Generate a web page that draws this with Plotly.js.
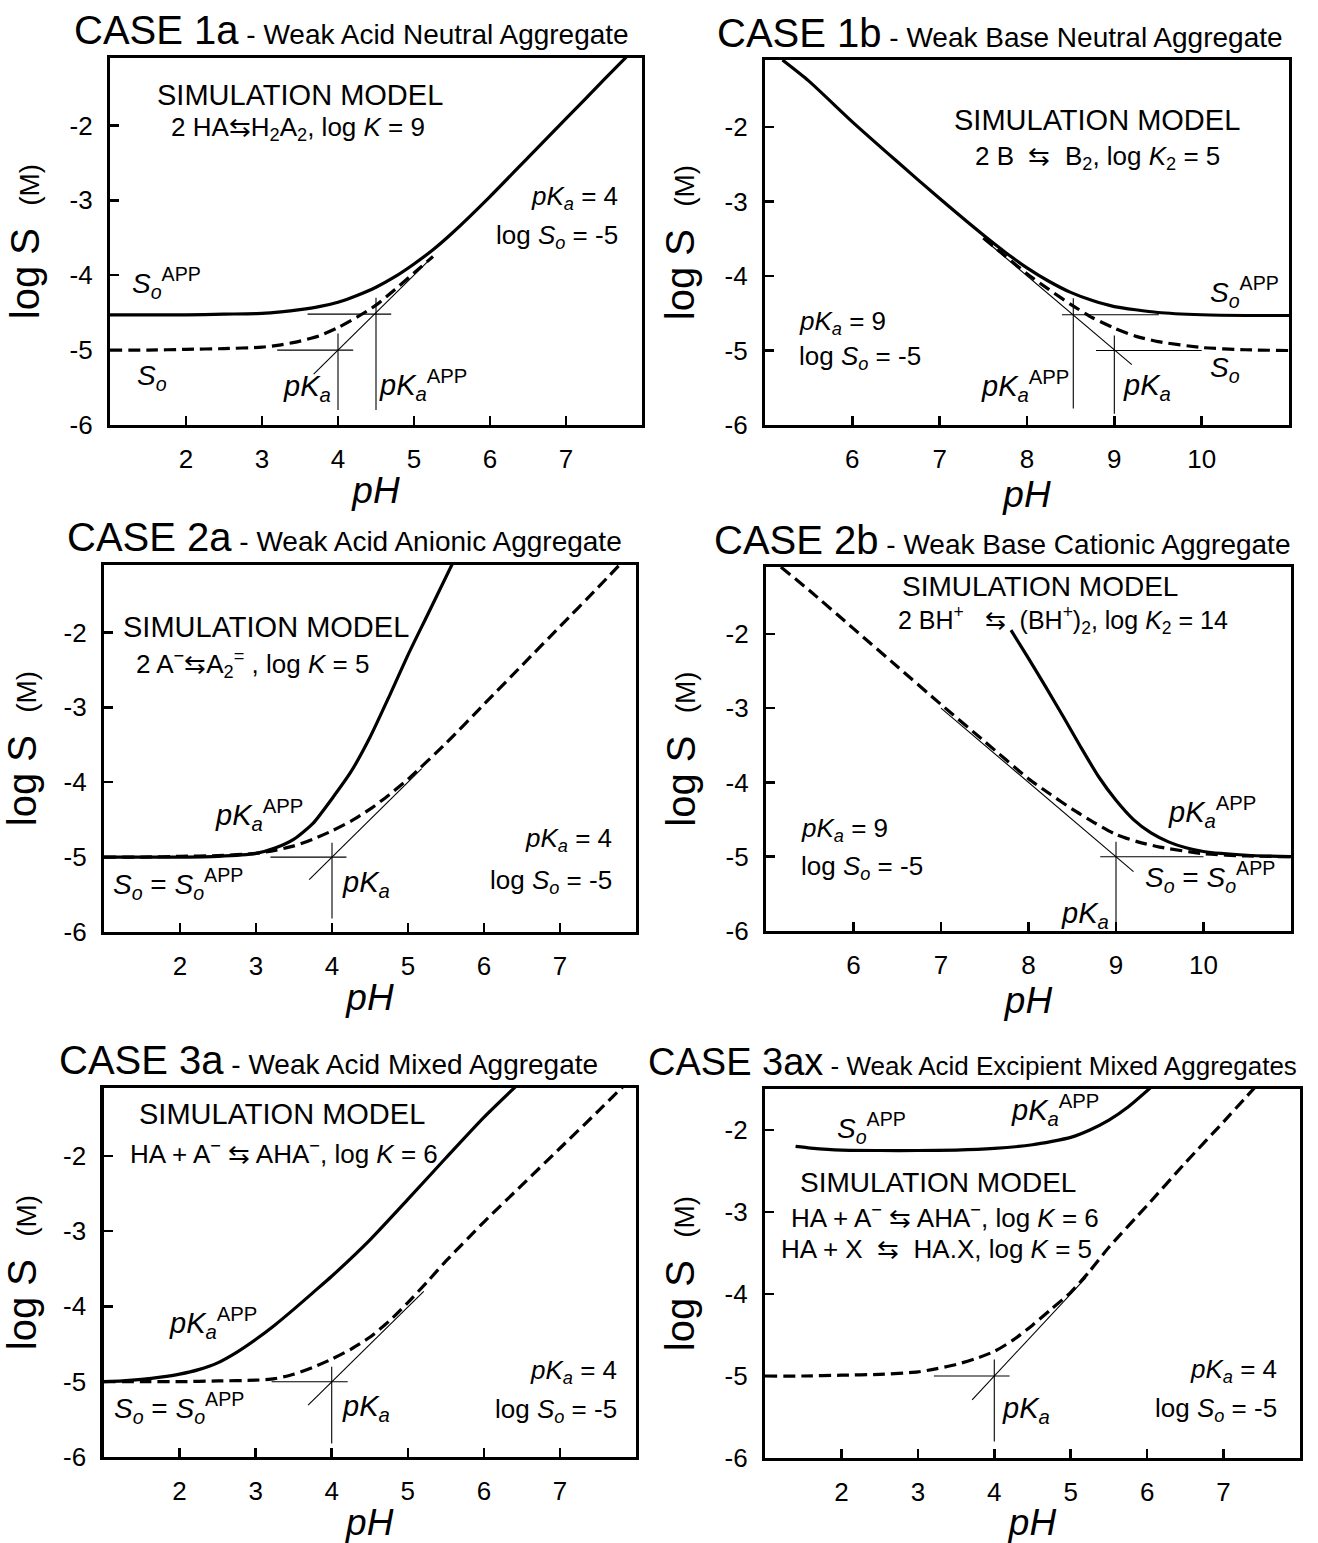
<!DOCTYPE html>
<html>
<head>
<meta charset="utf-8">
<script src="https://cdn.plot.ly/plotly-3.0.1.min.js"></script>
<style>html,body{margin:0;padding:0;background:#fff;}#chart{width:1318px;height:1543px;}</style>
</head>
<body>
<div id="chart"></div>
<script>
// ---------------- DATA ----------------
const yTickVals = [-6, -5, -4, -3, -2];
const yTickText = ['-6', '-5', '-4', '-3', '-2'];
const xTickAcid = [2, 3, 4, 5, 6, 7];
const xTickBase = [6, 7, 8, 9, 10];

// CASE 1a
const pH1a_app = [1, 2, 2.5, 3, 3.25, 3.5, 3.75, 4, 4.25, 4.5, 4.75, 5, 5.25, 5.5, 6, 6.5, 7, 7.5, 7.8];
const logS1a_app = [-4.53, -4.53, -4.52, -4.51, -4.49, -4.46, -4.42, -4.36, -4.27, -4.16, -4.02, -3.85, -3.66, -3.44, -2.95, -2.43, -1.91, -1.39, -1.08];
const pH1a_so = [1, 1.5, 2, 2.5, 3, 3.25, 3.5, 3.75, 4, 4.25, 4.5, 4.75, 5, 5.25];
const logS1a_so = [-5.0, -5.0, -4.99, -4.98, -4.96, -4.93, -4.88, -4.81, -4.70, -4.56, -4.40, -4.19, -3.97, -3.75];
const tan1a_x = [3.68, 5.22], tan1a_y = [-5.32, -3.78];
const pka1a_hx = [3.2, 4.2], pka1a_hy = [-5, -5];
const pka1a_vx = [4, 4], pka1a_vy = [-4.78, -5.8];
const app1a_hx = [3.6, 4.7], app1a_hy = [-4.52, -4.52];
const app1a_vx = [4.5, 4.5], app1a_vy = [-4.3, -5.8];

// CASE 1b
const pH1b_app = [5.2, 5.5, 6, 6.5, 7, 7.5, 7.75, 8, 8.25, 8.5, 8.75, 9, 9.5, 10, 10.5, 11];
const logS1b_app = [-1.1, -1.38, -1.93, -2.45, -2.96, -3.45, -3.68, -3.89, -4.07, -4.22, -4.33, -4.41, -4.49, -4.52, -4.53, -4.53];
const pH1b_so = [7.5, 7.75, 8, 8.25, 8.5, 8.75, 9, 9.25, 9.5, 10, 10.5, 11];
const logS1b_so = [-3.49, -3.73, -3.97, -4.18, -4.38, -4.56, -4.70, -4.81, -4.88, -4.96, -4.99, -5.0];
const tan1b_x = [7.51, 9.2], tan1b_y = [-3.51, -5.19];
const pka1b_hx = [8.79, 10.0], pka1b_hy = [-5, -5];
const pka1b_vx = [9, 9], pka1b_vy = [-4.8, -5.85];
const app1b_hx = [8.4, 9.51], app1b_hy = [-4.52, -4.52];
const app1b_vx = [8.53, 8.53], app1b_vy = [-4.3, -5.78];

// CASE 2a
const pH2a_app = [1, 1.5, 2, 2.5, 3, 3.25, 3.5, 3.75, 4, 4.25, 4.5, 4.75, 5, 5.25, 5.6];
const logS2a_app = [-5.0, -5.0, -5.0, -4.99, -4.95, -4.88, -4.76, -4.55, -4.22, -3.86, -3.4, -2.86, -2.3, -1.78, -1.05];
const pH2a_so = [1, 1.5, 2, 2.5, 3, 3.25, 3.5, 3.75, 4, 4.25, 4.5, 4.75, 5, 5.5, 6, 6.5, 7, 7.5, 7.8];
const logS2a_so = [-5.0, -5.0, -4.99, -4.98, -4.95, -4.91, -4.85, -4.76, -4.65, -4.52, -4.36, -4.17, -3.96, -3.48, -2.96, -2.44, -1.92, -1.4, -1.08];
const tan2a_x = [3.7, 5.18], tan2a_y = [-5.3, -3.82];
const pka2a_hx = [3.19, 4.19], pka2a_hy = [-5, -5];
const pka2a_vx = [4, 4], pka2a_vy = [-4.81, -5.82];

// CASE 2b
const pH2b_so = [5.17, 5.5, 6, 6.5, 7, 7.5, 8, 8.25, 8.5, 8.75, 9, 9.25, 9.5, 10, 10.5, 11];
const logS2b_so = [-1.1, -1.42, -1.93, -2.44, -2.95, -3.45, -3.95, -4.16, -4.36, -4.54, -4.7, -4.8, -4.87, -4.96, -4.99, -5.0];
const pH2b_app = [7.8, 8.0, 8.2, 8.4, 8.6, 8.8, 9.0, 9.2, 9.4, 9.6, 9.8, 10.0, 10.5, 11];
const logS2b_app = [-1.95, -2.33, -2.72, -3.12, -3.53, -3.92, -4.24, -4.5, -4.68, -4.8, -4.88, -4.93, -4.98, -5.0];
const tan2b_x = [7.0, 9.2], tan2b_y = [-3.0, -5.2];
const pka2b_hx = [8.82, 10.0], pka2b_hy = [-5, -5];
const pka2b_vx = [9, 9], pka2b_vy = [-4.8, -5.88];

// CASE 3a
const pH3a_app = [1, 1.25, 1.5, 1.75, 2, 2.25, 2.5, 2.75, 3, 3.25, 3.5, 3.75, 4, 4.5, 5, 5.5, 6, 6.45];
const logS3a_app = [-5.0, -4.99, -4.97, -4.94, -4.9, -4.84, -4.75, -4.61, -4.44, -4.25, -4.04, -3.82, -3.6, -3.12, -2.58, -2.03, -1.49, -1.05];
const pH3a_so = [1, 1.5, 2, 2.5, 3, 3.25, 3.5, 3.75, 4, 4.25, 4.5, 4.75, 5, 5.25, 5.5, 6, 6.5, 7, 7.5, 7.85];
const logS3a_so = [-5.0, -5.0, -5.0, -4.99, -4.98, -4.96, -4.9, -4.81, -4.7, -4.57, -4.41, -4.2, -3.95, -3.68, -3.4, -2.88, -2.39, -1.9, -1.41, -1.06];
const tan3a_x = [3.69, 5.21], tan3a_y = [-5.31, -3.8];
const pka3a_hx = [3.21, 4.21], pka3a_hy = [-5, -5];
const pka3a_vx = [4, 4], pka3a_vy = [-4.8, -5.82];

// CASE 3ax
const pH3ax_app = [1.4, 1.6, 2, 2.5, 3, 3.5, 4, 4.5, 5, 5.25, 5.5, 5.75, 6.05];
const logS3ax_app = [-2.2, -2.22, -2.245, -2.25, -2.25, -2.245, -2.225, -2.18, -2.09, -2.0, -1.88, -1.72, -1.48];
const pH3ax_so = [1, 1.5, 2, 2.5, 3, 3.25, 3.5, 3.75, 4, 4.25, 4.5, 4.75, 5, 5.25, 5.5, 6, 6.5, 7, 7.42];
const logS3ax_so = [-5.0, -5.0, -4.99, -4.98, -4.95, -4.91, -4.86, -4.79, -4.7, -4.56, -4.38, -4.18, -3.98, -3.72, -3.43, -2.92, -2.4, -1.9, -1.47];
const tan3ax_x = [3.71, 5.2], tan3ax_y = [-5.29, -3.8];
const pka3ax_hx = [3.21, 4.2], pka3ax_hy = [-5, -5];
const pka3ax_vx = [4, 4], pka3ax_vy = [-4.8, -5.8];

// ---------------- LAYOUT / STYLE ----------------
const W = 1318, H = 1543;
const FONT = 'Liberation Sans, Arial, Helvetica, sans-serif';
const BLACK = '#000';

// plot frames in pixels [left, right, top, bottom]
const frames = [
  [110, 642, 58, 425],
  [765, 1289, 60, 425],
  [104, 636, 565, 932],
  [766, 1291, 567, 931],
  [103.5, 636, 1088, 1457],
  [765, 1300, 1089, 1458]
];
const xRanges = [[1, 8], [5, 11], [1, 8], [5, 11], [1, 8], [1, 8]];
const yRanges = [[-6, -1.1], [-6, -1.1], [-6, -1.1], [-6, -1.1], [-6, -1.1], [-6, -1.5]];
const xTicks = [xTickAcid, xTickBase, xTickAcid, xTickBase, xTickAcid, xTickAcid];

const layout = {
  width: W, height: H,
  margin: {l: 0, r: 0, t: 0, b: 0},
  paper_bgcolor: '#fff', plot_bgcolor: '#fff',
  showlegend: false,
  font: {family: FONT, color: BLACK},
  annotations: []
};

frames.forEach((f, i) => {
  const n = i === 0 ? '' : String(i + 1);
  layout['xaxis' + n] = {
    domain: [f[0] / W, f[1] / W],
    range: xRanges[i],
    anchor: 'y' + n,
    tickvals: xTicks[i],
    ticktext: xTicks[i].map(String),
    ticks: 'inside', ticklen: 9, tickwidth: 2.5, tickcolor: BLACK,
    showline: true, linewidth: 3.2, linecolor: BLACK, mirror: true,
    showgrid: false, zeroline: false, automargin: false, fixedrange: true,
    tickfont: {family: FONT, size: 26, color: BLACK},
    ticklabelstandoff: 9,
    title: {text: '<i>pH</i>', font: {family: FONT, size: 37, color: BLACK}, standoff: 4}
  };
  layout['yaxis' + n] = {
    domain: [1 - f[3] / H, 1 - f[2] / H],
    range: yRanges[i],
    anchor: 'x' + n,
    tickvals: yTickVals,
    ticktext: yTickText,
    ticks: 'inside', ticklen: 9, tickwidth: 2.5, tickcolor: BLACK,
    showline: true, linewidth: 3.2, linecolor: BLACK, mirror: true,
    showgrid: false, zeroline: false, automargin: false, fixedrange: true,
    tickfont: {family: FONT, size: 26, color: BLACK},
    ticklabelstandoff: 9,
    title: {text: 'log S\u00A0\u00A0<span style="font-size:28px">(M)</span>', font: {family: FONT, size: 40, color: BLACK}, standoff: 18}
  };
});

const traces = [];
function curve(i, x, y, dashed) {
  const n = i === 0 ? '' : String(i + 1);
  traces.push({
    type: 'scatter', mode: 'lines', x: x, y: y,
    xaxis: 'x' + n, yaxis: 'y' + n, hoverinfo: 'skip',
    line: {color: BLACK, width: 3.2, dash: dashed ? '12px,6px' : 'solid', shape: 'spline', smoothing: 0.6}
  });
}
function thin(i, x, y) {
  const n = i === 0 ? '' : String(i + 1);
  traces.push({
    type: 'scatter', mode: 'lines', x: x, y: y,
    xaxis: 'x' + n, yaxis: 'y' + n, hoverinfo: 'skip',
    line: {color: BLACK, width: 1.1}
  });
}

// panel 1a
thin(0, tan1a_x, tan1a_y); thin(0, pka1a_hx, pka1a_hy); thin(0, pka1a_vx, pka1a_vy);
thin(0, app1a_hx, app1a_hy); thin(0, app1a_vx, app1a_vy);
curve(0, pH1a_so, logS1a_so, true); curve(0, pH1a_app, logS1a_app, false);
// panel 1b
thin(1, tan1b_x, tan1b_y); thin(1, pka1b_hx, pka1b_hy); thin(1, pka1b_vx, pka1b_vy);
thin(1, app1b_hx, app1b_hy); thin(1, app1b_vx, app1b_vy);
curve(1, pH1b_so, logS1b_so, true); curve(1, pH1b_app, logS1b_app, false);
// panel 2a
thin(2, tan2a_x, tan2a_y); thin(2, pka2a_hx, pka2a_hy); thin(2, pka2a_vx, pka2a_vy);
curve(2, pH2a_so, logS2a_so, true); curve(2, pH2a_app, logS2a_app, false);
// panel 2b
thin(3, tan2b_x, tan2b_y); thin(3, pka2b_hx, pka2b_hy); thin(3, pka2b_vx, pka2b_vy);
curve(3, pH2b_so, logS2b_so, true); curve(3, pH2b_app, logS2b_app, false);
// panel 3a
thin(4, tan3a_x, tan3a_y); thin(4, pka3a_hx, pka3a_hy); thin(4, pka3a_vx, pka3a_vy);
curve(4, pH3a_so, logS3a_so, true); curve(4, pH3a_app, logS3a_app, false);
// panel 3ax
thin(5, tan3ax_x, tan3ax_y); thin(5, pka3ax_hx, pka3ax_hy); thin(5, pka3ax_vx, pka3ax_vy);
curve(5, pH3ax_so, logS3ax_so, true); curve(5, pH3ax_app, logS3ax_app, false);

// ---------------- TEXT ----------------
const PKA = '<i>pK</i><sub><i>a</i></sub>';
const PKAAPP = '<i>pK</i><sub><i>a</i></sub><sup>APP</sup>';
const SO = '<i>S</i><sub><i>o</i></sub>';
const SOAPP = '<i>S</i><sub><i>o</i></sub><sup>APP</sup>';
const ARR = '\u21C6';
const NB = '\u00A0';

function note(i, x, y, text, size, xanchor) {
  const n = i === 0 ? '' : String(i + 1);
  layout.annotations.push({
    xref: 'x' + n, yref: 'y' + n, x: x, y: y, text: text,
    showarrow: false, xanchor: xanchor || 'center', yanchor: 'middle',
    font: {family: FONT, size: size, color: BLACK}
  });
}
function title(px, py, big, small, bigSize, smallSize) {
  layout.annotations.push({
    xref: 'paper', yref: 'paper', x: px / W, y: 1 - py / H,
    text: '<span style="font-size:' + (bigSize || 40) + 'px">' + big + '</span>' + NB + '- ' + small,
    showarrow: false, xanchor: 'center', yanchor: 'middle',
    font: {family: FONT, size: smallSize || 28, color: BLACK}
  });
}

title(351, 30, 'CASE 1a', 'Weak Acid Neutral Aggregate');
title(1000, 33, 'CASE 1b', 'Weak Base Neutral Aggregate');
title(344, 537, 'CASE 2a', 'Weak Acid Anionic Aggregate');
title(1002, 540, 'CASE 2b', 'Weak Base Cationic Aggregate');
title(328, 1060, 'CASE 3a', 'Weak Acid Mixed Aggregate');
title(972, 1062, 'CASE 3ax', 'Weak Acid Excipient Mixed Aggregates', 38, 26);

// 1a
note(0, 3.5, -1.6, 'SIMULATION MODEL', 29);
note(0, 3.47, -2.04, '2 HA' + ARR + 'H<sub>2</sub>A<sub>2</sub>, log <i>K</i> = 9', 26);
note(0, 7.71, -2.96, PKA + ' = 4', 26, 'right');
note(0, 7.71, -3.48, 'log ' + SO + ' = -5', 26, 'right');
note(0, 1.26, -4.1, SOAPP, 28, 'left');
note(0, 1.33, -5.37, SO, 28, 'left');
note(0, 3.93, -5.5, PKA, 29, 'right');
note(0, 4.51, -5.47, PKAAPP, 29, 'left');
// 1b
note(1, 8.8, -1.91, 'SIMULATION MODEL', 29);
note(1, 8.81, -2.41, '2 B' + NB + NB + ARR + NB + NB + 'B<sub>2</sub>, log <i>K</i><sub>2</sub> = 5', 26);
note(1, 5.37, -4.63, PKA + ' = 9', 26, 'left');
note(1, 5.37, -5.1, 'log ' + SO + ' = -5', 26, 'left');
note(1, 10.07, -4.21, SOAPP, 28, 'left');
note(1, 10.07, -5.26, SO, 28, 'left');
note(1, 8.5, -5.48, PKAAPP, 29, 'right');
note(1, 9.08, -5.49, PKA, 29, 'left');
// 2a
note(2, 3.13, -1.93, 'SIMULATION MODEL', 29);
note(2, 2.95, -2.42, '2 A<sup>\u2212</sup>' + ARR + 'A<sub>2</sub><sup>=</sup> , log <i>K</i> = 5', 26);
note(2, 2.43, -4.44, PKAAPP, 29, 'left');
note(2, 1.09, -5.36, SO + ' = ' + SOAPP, 28, 'left');
note(2, 4.1, -5.36, PKA, 29, 'left');
note(2, 7.71, -4.77, PKA + ' = 4', 26, 'right');
note(2, 7.71, -5.33, 'log ' + SO + ' = -5', 26, 'right');
// 2b
note(3, 8.13, -1.36, 'SIMULATION MODEL', 28);
note(3, 8.39, -1.81, '2 BH<sup>+</sup>' + NB + NB + NB + ARR + NB + NB + '(BH<sup>+</sup>)<sub>2</sub>, log <i>K</i><sub>2</sub> = 14', 25);
note(3, 5.38, -4.64, PKA + ' = 9', 26, 'left');
note(3, 5.38, -5.14, 'log ' + SO + ' = -5', 26, 'left');
note(3, 9.57, -4.4, PKAAPP, 29, 'left');
note(3, 9.31, -5.27, SO + ' = ' + SOAPP, 28, 'left');
note(3, 8.94, -5.78, PKA, 29, 'right');
// 3a
note(4, 3.35, -1.45, 'SIMULATION MODEL', 29);
note(4, 3.37, -1.96, 'HA + A<sup>\u2212</sup> ' + ARR + ' AHA<sup>\u2212</sup>, log <i>K</i> = 6', 26);
note(4, 1.84, -4.22, PKAAPP, 29, 'left');
note(4, 1.11, -5.35, SO + ' = ' + SOAPP, 28, 'left');
note(4, 4.11, -5.35, PKA, 29, 'left');
note(4, 7.78, -4.87, PKA + ' = 4', 26, 'right');
note(4, 7.78, -5.38, 'log ' + SO + ' = -5', 26, 'right');
// 3ax
note(5, 1.92, -1.98, SOAPP, 28, 'left');
note(5, 4.19, -1.76, PKAAPP, 29, 'left');
note(5, 3.27, -2.64, 'SIMULATION MODEL', 28);
note(5, 3.35, -3.05, 'HA + A<sup>\u2212</sup> ' + ARR + ' AHA<sup>\u2212</sup>, log <i>K</i> = 6', 26);
note(5, 3.25, -3.45, 'HA + X' + NB + NB + ARR + NB + NB + 'HA.X, log <i>K</i> = 5', 26);
note(5, 7.72, -4.93, PKA + ' = 4', 26, 'right');
note(5, 7.72, -5.41, 'log ' + SO + ' = -5', 26, 'right');
note(5, 4.08, -5.41, PKA, 29, 'left');

Plotly.newPlot('chart', traces, layout, {staticPlot: true, displayModeBar: false});
</script>
</body>
</html>
